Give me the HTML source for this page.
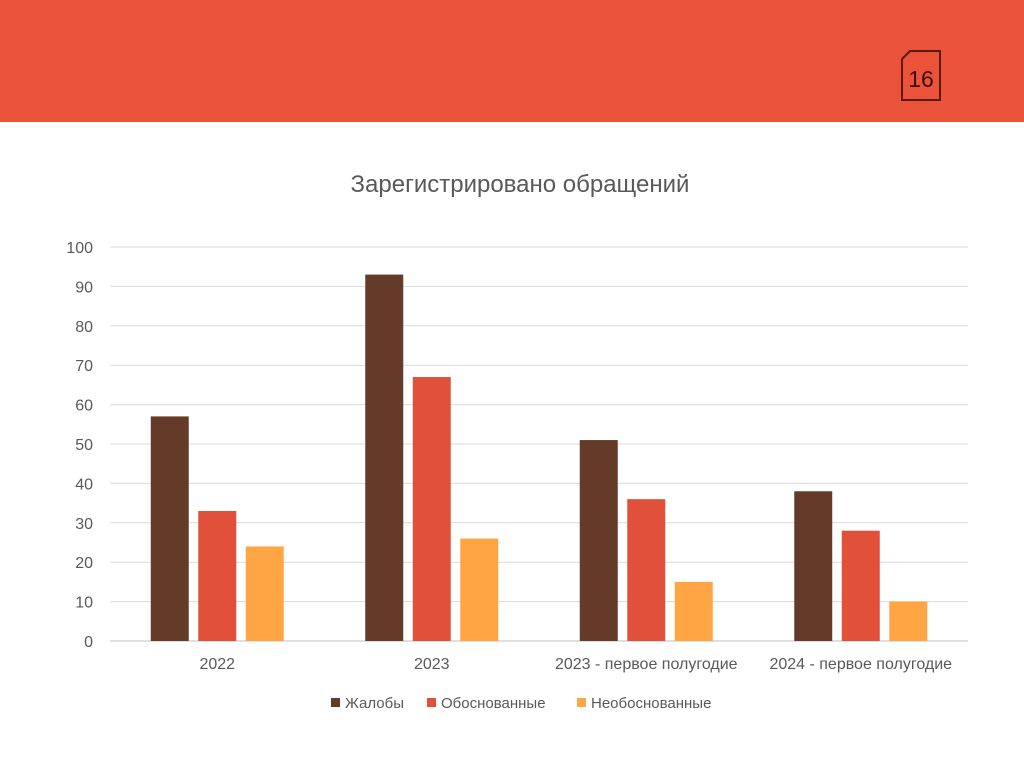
<!DOCTYPE html>
<html><head><meta charset="utf-8"><style>
body{margin:0;width:1024px;height:767px;background:#fff;font-family:"Liberation Sans",sans-serif;overflow:hidden;position:relative}
#hdr{position:absolute;left:0;top:0;width:1024px;height:122px;background:#EA523A}
</style></head><body>
<div id="hdr"></div>
<svg width="1024" height="767" style="position:absolute;left:0;top:0" id="chart">
<path d="M910,51 L940,51 L940,100 L902,100 L902,59 Z" fill="none" stroke="#5a1a10" stroke-width="2"/>
<text x="921" y="87" text-anchor="middle" font-size="23" fill="#3a1008" font-family="Liberation Sans, sans-serif">16</text>
<text x="520" y="192" text-anchor="middle" font-size="24" fill="#595959">Зарегистрировано обращений</text>
<g id="grid"></g><g id="bars"></g><g id="labels"></g><g id="legend"></g>
</svg>
<script>
const categories=["2022","2023","2023 - первое полугодие","2024 - первое полугодие"];
const complaints=[57,93,51,38];
const justified=[33,67,36,28];
const unjustified=[24,26,15,10];
const yTicks=[0,10,20,30,40,50,60,70,80,90,100];
const seriesNames=["Жалобы","Обоснованные","Необоснованные"];
const NS="http://www.w3.org/2000/svg";
const colors=["#643B28","#E0503A","#FFA544"];
const x0=110,x1=968,yTop=247,yBot=641;
const y=v=>yBot-(v/100)*(yBot-yTop);
const gw=(x1-x0)/categories.length;
function mk(t,a,p){const e=document.createElementNS(NS,t);for(const k in a)e.setAttribute(k,a[k]);p.appendChild(e);return e;}
const grid=document.getElementById('grid'),bars=document.getElementById('bars'),labels=document.getElementById('labels'),legend=document.getElementById('legend');
yTicks.forEach(v=>{
 const l=mk('line',{x1:x0,x2:x1,y1:y(v),y2:y(v),stroke:v===0?'#bfbfbf':'#d9d9d9','stroke-width':1},grid);
 
 
 const t=mk('text',{x:93,y:y(v)+6,'text-anchor':'end','font-size':16,fill:'#595959'},labels);
 t.textContent=v;
 
 
});
const series=[complaints,justified,unjustified];
const bw=38,step=47.5;
categories.forEach((c,i)=>{
 const cx=x0+gw*(i+0.5);
 series.forEach((s,j)=>{
  const bx=cx-bw/2+(j-1)*step;
  const r=mk('rect',{x:bx,y:y(s[i]),width:bw,height:yBot-y(s[i]),fill:colors[j]},bars);
  
  
 });
 const t=mk('text',{x:cx,y:669,'text-anchor':'middle','font-size':16,fill:'#595959'},labels);
 t.textContent=c;
 
 
});
const lx=[331,427,577];
seriesNames.forEach((n,j)=>{
 const r=mk('rect',{x:lx[j],y:698,width:9,height:9,fill:colors[j]},legend);
 
 
 const t=mk('text',{x:lx[j]+14,y:708,'font-size':15,fill:'#595959'},legend);
 t.textContent=n;
 
 
});
</script>
</body></html>
